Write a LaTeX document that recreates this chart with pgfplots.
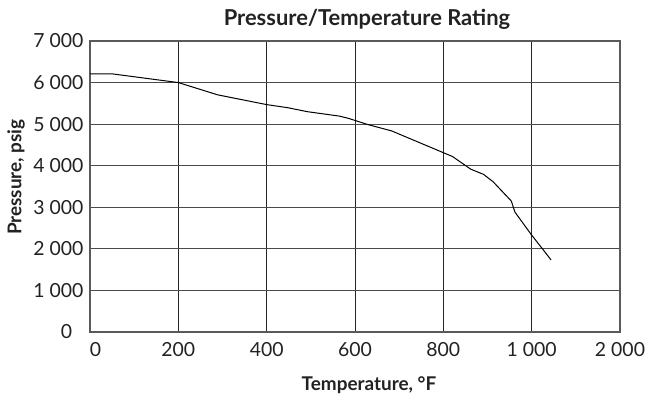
\documentclass[border=0pt]{standalone}
\usepackage{pgfplots}
\pgfplotsset{compat=1.18}
\usepackage{fontspec}
\setmainfont{Lato}

\definecolor{gridgray}{HTML}{4A4A4A}
\definecolor{framegray}{HTML}{5A5A5A}
\definecolor{txt}{HTML}{222222}

\begin{document}
\begin{tikzpicture}
\useasboundingbox (-90bp,-68bp) rectangle (567bp,332bp);
\begin{axis}[
  at={(0,0)}, anchor=south west,
  scale only axis, width=530bp, height=291bp,
  xmin=0, xmax=1200, ymin=0, ymax=7000,
  xtick={0,200,...,1200},
  xticklabels={\hphantom{0}0,200,400,600,800,1 000,2 000},
  ytick={0,1000,...,7000},
  yticklabels={0\hphantom{0},1 000,2 000,3 000,4 000,5 000,6 000,7 000},
  major tick length=0pt,
  grid=major,
  x grid style={black!85, line width=1bp},
  y grid style={gridgray, line width=1.1bp},
  axis line style={framegray, line width=1.2bp},
  tick label style={font=\fontsize{19.5}{19.5}\selectfont, text=txt},
  xticklabel style={yshift=-7bp},
  yticklabel style={xshift=-3bp},
  title={Pressure/Temperature Rating},
  title style={font=\bfseries\fontsize{22}{22}\selectfont, text=txt,
    at={(axis description cs:0.5226,1.032)}, anchor=base},
  xlabel={Temperature, °F},
  xlabel style={font=\bfseries\fontsize{19}{19}\selectfont, text=txt,
    at={(axis description cs:0.5264,-0.2027)}, anchor=base},
  ylabel={Pressure, psig},
  ylabel style={font=\bfseries\fontsize{19}{19}\selectfont, text=txt,
    at={(axis description cs:-0.1396,0.5326)}, anchor=center},
]
\addplot[black, line width=1bp] coordinates {
  (0,6210) (50,6210) (200,6000) (289,5705) (400,5470) (448,5395)
  (492,5300) (565,5193) (586,5137) (629,4990) (683,4837) (821,4220)
  (862,3917) (891,3792) (913,3611) (954,3149) (962,2886) (998,2359)
  (1044,1733)
};
\end{axis}
\end{tikzpicture}
\end{document}
